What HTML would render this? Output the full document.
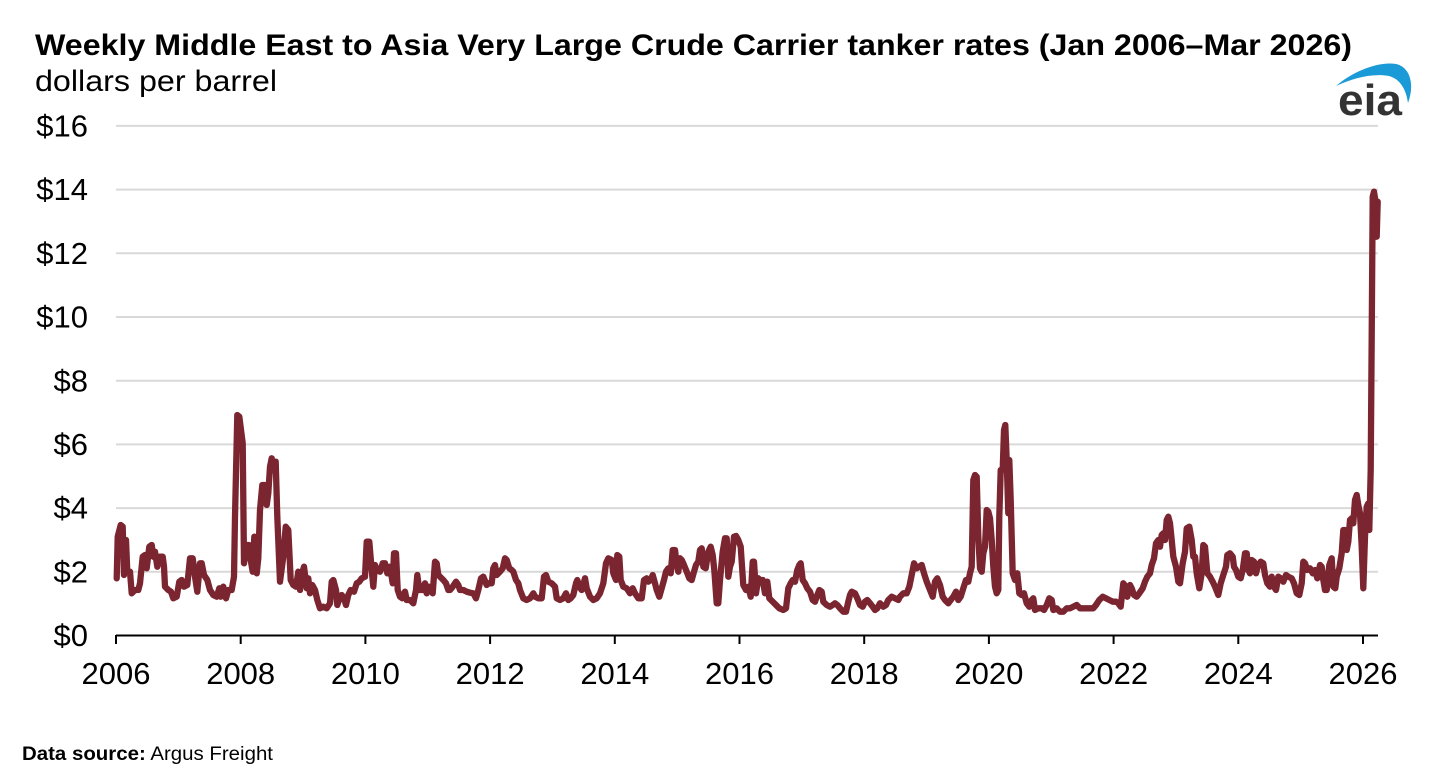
<!DOCTYPE html>
<html><head><meta charset="utf-8"><style>
html,body{margin:0;padding:0;background:#fff;}
svg{display:block;}
text{font-family:"Liberation Sans",Arial,sans-serif;}
</style></head><body>
<svg width="1439" height="784" viewBox="0 0 1439 784" xmlns="http://www.w3.org/2000/svg">
<rect width="1439" height="784" fill="#fff"/>
<text x="35" y="55" font-size="30" font-weight="bold" fill="#000" textLength="1317" lengthAdjust="spacingAndGlyphs">Weekly Middle East to Asia Very Large Crude Carrier tanker rates (Jan 2006–Mar 2026)</text>
<text x="35" y="91" font-size="30" fill="#000" textLength="242" lengthAdjust="spacingAndGlyphs">dollars per barrel</text>
<!-- eia logo -->
<path d="M1336,86 C1352,72 1378,61 1396,64 C1410,67 1415,84 1408,103 C1406,89 1400,79 1389,76 C1373,73 1353,78 1336,86 Z" fill="#1a9ad6"/>
<text x="1338" y="115" font-size="44" font-weight="bold" fill="#333" textLength="64" lengthAdjust="spacingAndGlyphs">eia</text>
<!-- gridlines -->
<g stroke="#d9d9d9" stroke-width="2">
<line x1="116" x2="1378" y1="125.9" y2="125.9"/>
<line x1="116" x2="1378" y1="189.6" y2="189.6"/>
<line x1="116" x2="1378" y1="253.3" y2="253.3"/>
<line x1="116" x2="1378" y1="317" y2="317"/>
<line x1="116" x2="1378" y1="380.7" y2="380.7"/>
<line x1="116" x2="1378" y1="444.4" y2="444.4"/>
<line x1="116" x2="1378" y1="508.1" y2="508.1"/>
<line x1="116" x2="1378" y1="571.8" y2="571.8"/>
</g>
<!-- y labels -->
<g font-size="31" fill="#000" text-anchor="end">
<text x="88" y="136.5">$16</text>
<text x="88" y="200.2">$14</text>
<text x="88" y="263.9">$12</text>
<text x="88" y="327.6">$10</text>
<text x="88" y="391.3">$8</text>
<text x="88" y="455">$6</text>
<text x="88" y="518.7">$4</text>
<text x="88" y="582.4">$2</text>
<text x="88" y="646.1">$0</text>
</g>
<!-- series -->
<polyline fill="none" stroke="#7b2530" stroke-width="6.3" stroke-linejoin="round" stroke-linecap="round" points="116.7,578.3 117.7,536.7 120.7,525 122.7,526.7 124,575 126,540 127.3,571.7 130,571.7 131.7,593.3 135,590 138.3,590 140,583.3 142.7,556.7 145,555 146.7,568.3 149.3,546.7 151.7,545 153.3,556.7 155,551.7 157.3,566.7 160,556.7 162.7,556.7 164,566.7 165,586.7 168.3,590 171,591.7 173.3,598.3 176.7,596.7 179.3,581.7 181.7,580 184,586.7 187.3,585 190,558.3 192.7,558.3 195,576.7 197.3,591.7 200,563.3 201.7,563.3 204,575 207.3,580 210,590 213.3,595 216.7,596.7 219.3,588.3 220.7,596.7 223.3,586.7 226,598.3 228.3,590 231.7,590 234,576.7 235,516.7 237.3,415 239.3,416.7 242.7,443.3 244,563.3 246.7,545 249,545 250.7,560 252.7,571.7 254.3,536.7 256.7,573.3 258.3,558.3 260,510 262.3,485 265,485 266.7,505 268.3,493.3 270,466.7 271.7,458.3 273.3,470 275.7,461.7 277.3,516.7 280,581.7 283.3,556.7 285.7,526.7 288.3,530 290.7,580 293.3,585 296,586.7 298.3,571.7 300,590 301.7,575 304,566.7 306.7,588.3 308.3,578.3 310,593.3 312.3,585 315,590 317.3,600 320,608.3 323.3,606.7 326.7,608.3 330,603.3 331.7,581.7 333.3,580 336,590 337.3,605 340,596.7 341.7,595 344,598.3 346,605 348.3,595 350.7,590 354,591.7 356.7,583.3 359.3,581.7 361.7,578.3 365,576.7 366.7,541.7 369.3,541.7 371.7,570 373.3,586.7 375,565 376.7,570 380,571.7 382.7,563.3 385,563.3 387.3,573.3 390,566.7 392.7,583.3 394,553.3 396,553.3 397.7,590 400,596.7 402.3,598.3 405,591.7 406.7,600 410,600 413.3,603.3 416,590 417.3,575 419.3,590 420.7,590 422.7,590 425,583.3 426.7,593.3 429,586.7 431,590 432.7,593.3 435,561.7 436.7,563.3 438.3,575 440,576.7 443.3,580 446,583.3 448.3,590 450,590 452.7,586.7 456,581.7 458.3,585 460,590 463.3,590 466.7,591.7 470,592.7 473.3,593.3 476,598.3 478.3,590 481,578.3 483.3,576.7 486.7,585 488.3,583.3 491.7,583.3 493.3,568.3 495,565 496.7,575 500,571.7 502.7,568.3 505,558.3 506.7,560 509.3,568.3 511.7,570 513.3,571.7 516,580 518.3,583.3 520,590 523.3,598.3 526.7,600 530,598.3 533.3,593.3 535,596.7 538.3,598.3 541.7,598.3 544,576.7 546,575 548.3,581.7 551.7,583.3 555,586.7 556.7,598.3 560,600 563.3,598.3 566,593.3 568.3,600 570.7,598.3 573.3,595 576,583.3 577.3,580 579.3,586.7 581.7,590 585,578.3 586.7,588.3 590,596.7 593.3,600 596.7,598.3 600,593.3 603.3,583.3 606,563.3 608.3,558.3 611.7,560 613.3,573.3 616,580 617.3,555 619.3,556.7 620.7,580 623.3,586.7 626.7,588.3 630,593.3 632.7,588.3 635,593.3 638.3,598.3 641.7,598.3 644,580 646.7,578.3 648.3,581.7 650.7,580 652.7,575 655,583.3 656.7,590 659.3,596.7 661.7,588.3 664,580 666,571.7 668.3,568.3 670.7,573.3 672.7,550 675,550 676.7,565 678.3,571.7 680,558.3 681.7,560 684,565 686.7,571.7 689.3,578.3 691.7,580 694,571.7 696,565 698.3,561.7 700,550 701.7,548.3 703.3,566.7 705.7,568.3 708.3,551.7 710.7,546.7 712.7,555 714.3,570 716.7,603.3 718.3,603.3 720,580 722.7,551.7 725,538.3 726.7,538.3 728.3,576.7 730,566.7 731.7,561.7 734,536.7 736,536 738.3,540 740.7,546.7 741.7,561.7 743.3,585 746,590 748.3,586.7 750.7,596.7 752.7,561.7 754,561.7 756,593.3 758.3,578.3 760,580 762.7,580 765,593.3 767.3,581.7 769.3,598.3 772.7,601.7 776,605 779.3,608.3 783.3,610 786,608.3 788.3,588.3 790.7,583.3 792.7,580 795,581.7 797.3,570 799.3,565 800.7,563.3 802.7,580 805,583.3 807.3,588.3 810,591.7 812.7,600 815,601.7 816.7,596.7 819.3,590 821.7,591.7 823.3,601.7 826.7,605 830,606.7 832.7,605 835,603.3 837.3,605 840,608.3 843.3,611.7 846,611.7 848.3,601.7 850,595 851.7,591.7 855,593.3 857.3,598.3 860,605 862.7,606.7 865,601.7 867.3,600 870,603.3 872.7,606.7 875,610 877.3,608.3 880,603.3 883.3,606.7 886,605 888.3,600 891.7,596.7 895,598.3 898.3,600 900,596.7 903.3,593.3 906.7,593.3 909.3,586.7 911.7,575 914,563.3 916.7,568.3 919.3,566.7 921.7,565 924,573.3 926.7,581.7 930,590 932.7,596.7 935,581.7 937.3,578.3 940,585 942.7,596.7 945,600 948.3,603.3 950.7,600 953.3,596.7 956,591.7 958.3,600 960.7,596.7 963.3,588.3 966,580 968.3,581.7 970,573.3 971.7,566.7 973.3,480 975,475 976.7,476.7 978.3,536.7 980,568.3 981.7,571.7 983.3,553.3 985,546.7 986.7,510 988.3,511.7 990,518.3 991.7,540 993.3,566.7 995,586.7 996.7,593.3 998.3,590 999.3,516.7 1000.7,470 1002.7,470 1004,430 1005.3,425 1006.7,460 1008.3,513.3 1009.3,460 1010.7,500 1012.7,573.3 1015,580 1017.3,573.3 1019.3,593.3 1021.7,595 1024,593.3 1026.7,603.3 1029.3,606.7 1031.7,600 1033.3,598.3 1035,610 1038.3,608.3 1041.7,608.3 1044,610 1046.7,605 1049.3,598.3 1051.7,600 1053.3,610 1056.7,608.3 1060,611.7 1063.3,611.7 1066.7,608.3 1070,608.3 1073.3,606.7 1076.7,605 1080,608.3 1083.3,608.3 1086.7,608.3 1090,608.3 1093.3,608.3 1096,605 1099.3,600 1102.7,596.7 1106,598.3 1109.3,600 1112.7,601.7 1116,601.7 1118.3,603.3 1120.7,606.7 1123.3,583.3 1126,586.7 1127.3,596.7 1130,585 1131.7,588.3 1134,595 1136.7,596.7 1139.3,593.3 1142.7,588.3 1145,581.7 1147.3,576.7 1150,573.3 1151.7,565 1154,558.3 1156,543.3 1158.3,540 1160,546.7 1161.7,535 1163.3,533.3 1165,540 1166.7,520 1168.3,516.7 1170,523.3 1171.7,540 1173.3,556.7 1176,566.7 1178.3,581.7 1180,583.3 1182.7,563.3 1185,551.7 1186.7,528.3 1189.3,526.7 1191.7,540 1193.3,556.7 1195,556.7 1196.7,573.3 1199.3,588.3 1201.7,573.3 1203.3,545 1205,546.7 1207.3,573.3 1210,576.7 1212.7,581.7 1215,586.7 1218.3,595 1220.7,583.3 1223.3,575 1226,566.7 1227.3,555 1230,553.3 1232.7,556.7 1234,566.7 1236,570 1238.3,576.7 1240.7,578.3 1242.7,570 1245,553.3 1246.7,553.3 1248.3,570 1250,573.3 1251.7,560 1254,561.7 1256,573.3 1258.3,565 1260.7,561.7 1263.3,563.3 1265,575 1267.3,583.3 1270,586.7 1271.7,576.7 1274,586.7 1276,590 1278.3,576.7 1280.7,578.3 1283.3,581.7 1286,575 1288.3,576.7 1291.7,578.3 1294,583.3 1296.7,593.3 1299.3,595 1301.7,583.3 1303.3,561.7 1305,563.3 1307.3,570 1310,568.3 1312.7,573.3 1315,570 1317.3,578.3 1320,565 1321.7,566.7 1323.3,580 1325,590 1326.7,590 1329.3,565 1331.7,558.3 1333.3,586.7 1335.3,588.3 1336.7,576.7 1339.3,568.3 1341.7,553.3 1343.3,530 1345,530 1346.7,550 1348.3,541.7 1350,520 1351.7,518.3 1353.3,523.3 1355,500 1356.7,495 1358.3,505 1360,513.3 1361.7,546.7 1363.3,588.3 1365,536.7 1366.7,506.7 1368.3,503.3 1369.3,530 1370.7,470 1371.7,336.7 1372.7,196.7 1374,191.7 1375.3,200 1376.7,236.7 1377.7,201.7"/>
<!-- x axis -->
<line x1="116" x2="1378" y1="635.5" y2="635.5" stroke="#000" stroke-width="2"/>
<g stroke="#000" stroke-width="2">
<line x1="116" x2="116" y1="635" y2="644"/>
<line x1="240.7" x2="240.7" y1="635" y2="644"/>
<line x1="365.4" x2="365.4" y1="635" y2="644"/>
<line x1="490.1" x2="490.1" y1="635" y2="644"/>
<line x1="614.8" x2="614.8" y1="635" y2="644"/>
<line x1="739.5" x2="739.5" y1="635" y2="644"/>
<line x1="864.2" x2="864.2" y1="635" y2="644"/>
<line x1="988.9" x2="988.9" y1="635" y2="644"/>
<line x1="1113.6" x2="1113.6" y1="635" y2="644"/>
<line x1="1238.3" x2="1238.3" y1="635" y2="644"/>
<line x1="1363" x2="1363" y1="635" y2="644"/>
</g>
<g font-size="31" fill="#000" text-anchor="middle">
<text x="116" y="684">2006</text>
<text x="240.7" y="684">2008</text>
<text x="365.4" y="684">2010</text>
<text x="490.1" y="684">2012</text>
<text x="614.8" y="684">2014</text>
<text x="739.5" y="684">2016</text>
<text x="864.2" y="684">2018</text>
<text x="988.9" y="684">2020</text>
<text x="1113.6" y="684">2022</text>
<text x="1238.3" y="684">2024</text>
<text x="1363" y="684">2026</text>
</g>
<text x="22" y="760" font-size="19" fill="#000" textLength="251" lengthAdjust="spacingAndGlyphs"><tspan font-weight="bold">Data source:</tspan> Argus Freight</text>
</svg>
</body></html>
